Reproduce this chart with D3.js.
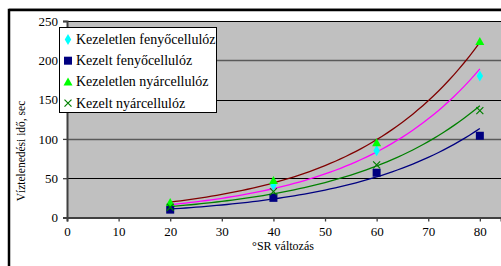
<!DOCTYPE html>
<html>
<head>
<meta charset="utf-8">
<script src="https://cdn.jsdelivr.net/npm/d3@7"></script>
<style>
body { margin: 0; background: #fff; }
svg { display: block; }
</style>
</head>
<body>
<div id="drawArea"></div>
<script>
// data
var srValues = [20, 40, 60, 80];
var seriesNames = ["Kezeletlen fenyőcellulóz", "Kezelt fenyőcellulóz", "Kezeletlen nyárcellulóz", "Kezelt nyárcellulóz"];
var kezeletlenFeny = [15, 41, 85, 180];
var kezeltFeny = [10, 25, 57, 104];
var kezeletlenNyar = [19, 47, 95, 224];
var kezeltNyar = [13, 33, 67, 136];
var xTicks = [0, 10, 20, 30, 40, 50, 60, 70, 80];
var yTicks = [0, 50, 100, 150, 200, 250];

var svgWidth = 501, svgHeight = 266;
var plotLeft = 67, plotRight = 501, plotTop = 21, plotBottom = 217.5;

var svg = d3.select("#drawArea").append("svg")
	.attr("width", svgWidth)
	.attr("height", svgHeight);

// outer chart frame
svg.append("rect")
	.attr("x", 9).attr("y", 10)
	.attr("width", 520).attr("height", 300)
	.attr("fill", "#fff")
	.attr("stroke", "#000")
	.attr("stroke-width", 2.5);
svg.append("line")
	.attr("x1", 9).attr("x2", 501).attr("y1", 8.5).attr("y2", 8.5)
	.attr("stroke", "#888").attr("stroke-width", 1);

var x = d3.scaleLinear().domain([0, 84.1]).range([plotLeft, plotRight]);
var y = d3.scaleLinear().domain([0, 250]).range([plotBottom, plotTop]);

svg.append("rect")
	.attr("x", plotLeft).attr("y", plotTop)
	.attr("width", plotRight - plotLeft).attr("height", plotBottom - plotTop)
	.attr("fill", "#c0c0c0");

// gridlines
svg.append("g").selectAll("line")
	.data(yTicks.filter(function(d){ return d > 0; }))
	.enter().append("line")
		.attr("x1", plotLeft).attr("x2", plotRight)
		.attr("y1", function(d){ return Math.round(y(d)) + 0.5; })
		.attr("y2", function(d){ return Math.round(y(d)) + 0.5; })
		.attr("stroke", function(d){ return (d / 50) % 2 == 0 ? "#5a5a5a" : "#000"; })
		.attr("stroke-width", function(d){ return d == 250 ? 1 : ((d / 50) % 2 == 0 ? 1.5 : 1); });

var tickFont = "'Liberation Serif', 'Times New Roman', serif";

var xAxis = svg.append("g")
	.attr("transform", "translate(0," + plotBottom + ")")
	.call(d3.axisBottom(x).tickValues(xTicks).tickSize(4).tickPadding(5));
var yAxis = svg.append("g")
	.attr("transform", "translate(" + plotLeft + ",0)")
	.call(d3.axisLeft(y).tickValues(yTicks).tickSize(4).tickPadding(5));

[xAxis, yAxis].forEach(function(a){
	a.select(".domain").attr("stroke", "#404040").attr("stroke-width", 2);
	a.selectAll(".tick line").attr("stroke", "#404040").attr("stroke-width", 1.3);
	a.selectAll("text")
		.attr("font-family", tickFont)
		.attr("font-size", 13)
		.attr("fill", "#000");
});

// exponential trendlines (least squares on log values)
function expFit(xs, ys){
	var n = xs.length;
	var mx = d3.mean(xs);
	var ly = ys.map(function(v){ return Math.log(v); });
	var my = d3.mean(ly);
	var sxy = 0, sxx = 0;
	for (var i = 0; i < n; i++){
		sxy += (xs[i] - mx) * (ly[i] - my);
		sxx += (xs[i] - mx) * (xs[i] - mx);
	}
	var b = sxy / sxx;
	var a = my - b * mx;
	return function(t){ return Math.exp(a + b * t); };
}

var series = [
	{ name: seriesNames[0], values: kezeletlenFeny, marker: "diamond", color: "#00ffff", trend: "#ff00ff" },
	{ name: seriesNames[1], values: kezeltFeny, marker: "square", color: "#000080", trend: "#000080" },
	{ name: seriesNames[2], values: kezeletlenNyar, marker: "triangle", color: "#00ff00", trend: "#800000" },
	{ name: seriesNames[3], values: kezeltNyar, marker: "cross", color: "#008000", trend: "#008000" }
];

var samples = d3.range(20, 80.01, 1);
var line = d3.line()
	.x(function(d){ return x(d[0]); })
	.y(function(d){ return y(d[1]); });

series.forEach(function(s){
	var f = expFit(srValues, s.values);
	svg.append("path")
		.datum(samples.map(function(t){ return [t, f(t)]; }))
		.attr("d", line)
		.attr("fill", "none")
		.attr("stroke", s.trend)
		.attr("stroke-width", 1.3);
});

function drawMarker(g, type, color, cx, cy){
	if (type == "diamond"){
		g.append("path")
			.attr("d", d3.symbol().type(d3.symbolDiamond).size(36)())
			.attr("transform", "translate(" + cx + "," + cy + ")")
			.attr("fill", color);
	} else if (type == "square"){
		g.append("rect")
			.attr("x", cx - 4).attr("y", cy - 4)
			.attr("width", 8).attr("height", 8)
			.attr("fill", color);
	} else if (type == "triangle"){
		g.append("path")
			.attr("d", "M" + cx + "," + (cy - 4.5) + "L" + (cx + 4.5) + "," + (cy + 3.5) + "L" + (cx - 4.5) + "," + (cy + 3.5) + "Z")
			.attr("fill", color);
	} else {
		g.append("path")
			.attr("d", "M" + (cx - 3.5) + "," + (cy - 3.5) + "L" + (cx + 3.5) + "," + (cy + 3.5) +
				"M" + (cx + 3.5) + "," + (cy - 3.5) + "L" + (cx - 3.5) + "," + (cy + 3.5))
			.attr("stroke", color)
			.attr("stroke-width", 1.2)
			.attr("fill", "none");
	}
}

var markers = svg.append("g");
series.forEach(function(s){
	s.values.forEach(function(v, i){
		drawMarker(markers, s.marker, s.color, x(srValues[i]), y(v));
	});
});

// legend
var legend = svg.append("g");
legend.append("rect")
	.attr("x", 59.5).attr("y", 27.5)
	.attr("width", 157).attr("height", 85)
	.attr("fill", "#fff")
	.attr("stroke", "#000")
	.attr("stroke-width", 1);
series.forEach(function(s, i){
	var ly = 39.5 + i * 21.2;
	drawMarker(legend, s.marker, s.color, 68, ly);
	legend.append("text")
		.attr("x", 76).attr("y", ly + 4.5)
		.attr("font-family", tickFont)
		.attr("font-size", 14)
		.attr("fill", "#000")
		.text(s.name);
});

// axis titles
svg.append("text")
	.attr("x", 283).attr("y", 250)
	.attr("text-anchor", "middle")
	.attr("font-family", tickFont)
	.attr("font-size", 12)
	.text("°SR változás");
svg.append("text")
	.attr("transform", "translate(25,151) rotate(-90)")
	.attr("text-anchor", "middle")
	.attr("font-family", tickFont)
	.attr("font-size", 11.5)
	.text("Víztelenedési idő, sec");
</script>
</body>
</html>
